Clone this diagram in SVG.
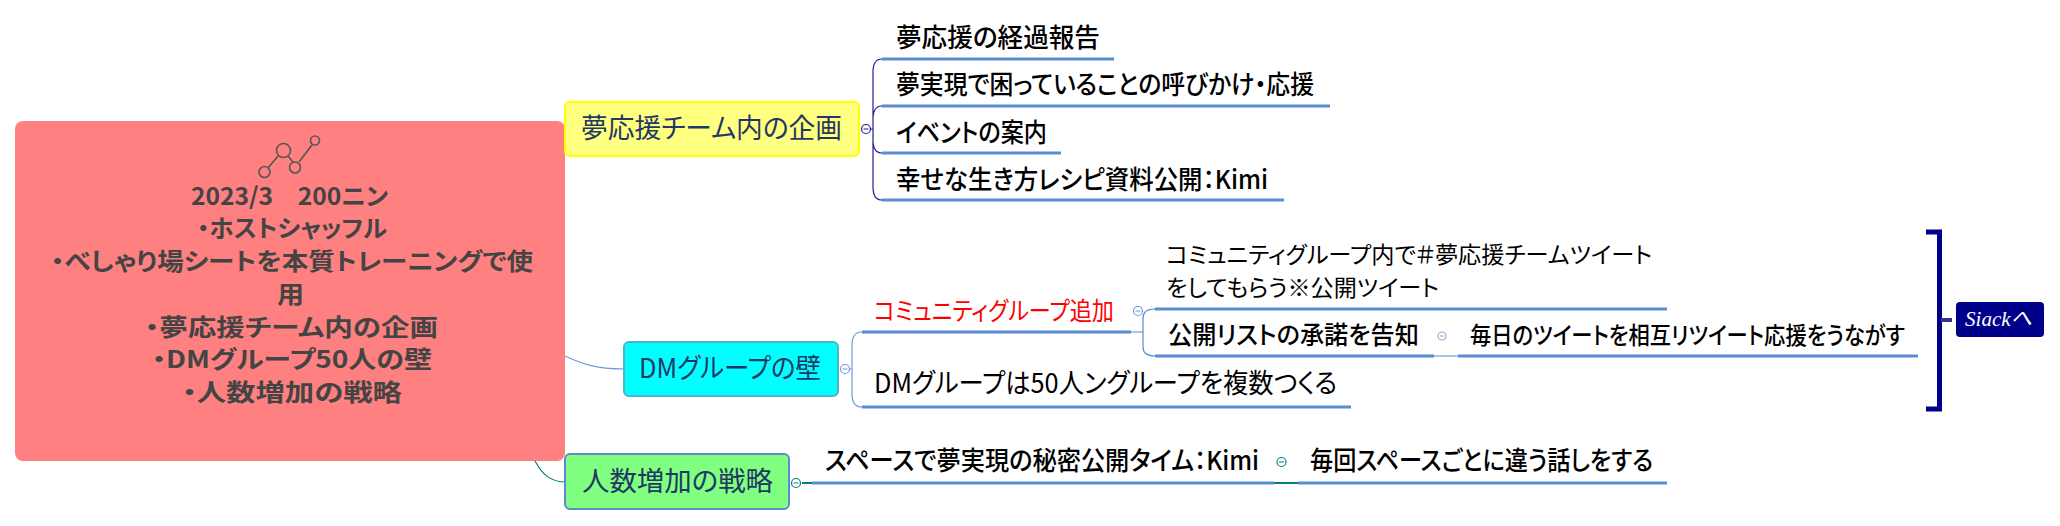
<svg xmlns="http://www.w3.org/2000/svg" width="2060" height="526" viewBox="0 0 2060 526">
<style>
text{font-family:"Noto Sans CJK JP","Liberation Sans",sans-serif;font-feature-settings:"palt"}
.c{font-size:24px;font-weight:700;fill:#444}
.m{font-size:27px;fill:#1f3864}
.l{font-size:26px;font-weight:500;fill:#000}
.u{stroke:#5b8bd0;stroke-width:3;fill:none}
.b{fill:none;stroke-width:1.2}
.t{fill:#fff;stroke-width:1.2}
.k{stroke:#555;stroke-width:1.6;fill:none}
</style>
<rect width="2060" height="526" fill="#fff"/>
<g id="connectors">
<path class="b" stroke="#6f9be0" d="M565 356C580 363 595 369 624 369"/>
<path class="b" stroke="#008080" d="M535 461C542 474 550 482 566 482"/>
<path class="b" stroke="#20208f" d="M882 59C876 59 873 64 873 72V187C873 195 876 200 882 200M882 106C876 106 873 111 873 119V140C873 148 876 153 882 153M866 129H873"/>
<path class="b" stroke="#6f9be0" d="M862 332C855 332 852 337 852 345V394C852 402 855 407 862 407M845 369H852"/>
<path class="b" stroke="#5b8bd0" d="M1131 332H1143M1155 309C1147 309 1143 312 1143 318V347C1143 353 1147 356 1155 356M1434 356H1458"/>
<path fill="none" stroke="#008080" stroke-width="2" d="M802 483H812M1274 483H1298"/>
<path class="u" d="M882 59H1114M882 106H1330M882 153H1061M882 200H1284M862 332H1131M862 407H1351M1155 309H1667M1155 356H1434M1458 356H1918M812 483H1274M1298 483H1667"/>
<path fill="none" stroke="#00008b" stroke-width="5" d="M1926 232H1939.500V409H1926"/>
<path fill="none" stroke="#3030a0" stroke-width="4" d="M1941 320H1952"/>
</g>
<g id="root">
<rect x="15" y="121" width="550" height="340" rx="8" fill="#ff8080"/>
<path class="k" d="M268 168L278 156M288 156L293 162M299 162L312 145"/>
<circle class="k" cx="264.500" cy="172" r="5.500"/><circle class="k" cx="283.500" cy="150.500" r="7"/><circle class="k" cx="295" cy="167.500" r="5.500"/><circle class="k" cx="315" cy="140.500" r="4.500"/>
<text class="c" x="191" y="205" textLength="197" lengthAdjust="spacingAndGlyphs">2023/3　200ニン</text>
<text class="c" x="197" y="237" textLength="190" lengthAdjust="spacingAndGlyphs">・ホストシャッフル</text>
<text class="c" x="51" y="270" textLength="482" lengthAdjust="spacingAndGlyphs">・べしゃり場シートを本質トレーニングで使</text>
<text class="c" x="277" y="303" textLength="27" lengthAdjust="spacingAndGlyphs">用</text>
<text class="c" x="145" y="336" textLength="293" lengthAdjust="spacingAndGlyphs">・夢応援チーム内の企画</text>
<text class="c" x="152" y="368" textLength="280" lengthAdjust="spacingAndGlyphs">・DMグループ50人の壁</text>
<text class="c" x="182" y="401" textLength="220" lengthAdjust="spacingAndGlyphs">・人数増加の戦略</text>
</g>
<g id="n-kikaku">
<rect x="565" y="102" width="294" height="54" rx="5" fill="#ffff80" stroke="#ffff00" stroke-width="2"/>
<text class="m" x="581" y="138" textLength="261" lengthAdjust="spacingAndGlyphs">夢応援チーム内の企画</text>
<circle class="t" cx="866" cy="129" r="4.500" stroke="#20208f"/>
<path stroke="#20208f" d="M863.500 129H868.500"/>
</g>
<g id="n-kabe">
<rect x="624" y="342" width="214" height="54" rx="5" fill="#00ffff" stroke="#4db6c6" stroke-width="2"/>
<text class="m" x="639" y="378" textLength="182" lengthAdjust="spacingAndGlyphs">DMグループの壁</text>
<circle class="t" cx="845" cy="369" r="4.500" stroke="#6f9be0"/>
<path stroke="#6f9be0" d="M842.500 369H847.500"/>
</g>
<g id="n-senryaku">
<rect x="565" y="454" width="224" height="55" rx="5" fill="#80ff80" stroke="#5b8bd0" stroke-width="2"/>
<text class="m" x="582" y="491" textLength="191" lengthAdjust="spacingAndGlyphs">人数増加の戦略</text>
<circle class="t" cx="796" cy="483" r="4.500" stroke="#008080"/>
<path stroke="#008080" d="M793.500 483H798.500"/>
</g>
<g id="n-1"><text class="l" x="896" y="47" textLength="204" lengthAdjust="spacingAndGlyphs">夢応援の経過報告</text></g>
<g id="n-2"><text class="l" x="896" y="94" textLength="418" lengthAdjust="spacingAndGlyphs">夢実現で困っていることの呼びかけ・応援</text></g>
<g id="n-3"><text class="l" x="896" y="142" textLength="151" lengthAdjust="spacingAndGlyphs">イベントの案内</text></g>
<g id="n-4"><text class="l" x="896" y="189" textLength="372" lengthAdjust="spacingAndGlyphs">幸せな生き方レシピ資料公開：Kimi</text></g>
<g id="n-comm">
<text x="874" y="320" font-size="25" fill="#ff0000" textLength="240" lengthAdjust="spacingAndGlyphs">コミュニティグループ追加</text>
<circle class="t" cx="1138" cy="311" r="4.500" stroke="#6f9be0"/>
<path stroke="#6f9be0" d="M1135.500 311H1140.500"/>
</g>
<g id="n-dm"><text x="874" y="393" font-size="27" fill="#000" textLength="463" lengthAdjust="spacingAndGlyphs">DMグループは50人ングループを複数つくる</text></g>
<g id="n-tweet">
<text x="1166" y="263" font-size="23" fill="#000" textLength="486" lengthAdjust="spacingAndGlyphs">コミュニティグループ内で＃夢応援チームツイート</text>
<text x="1166" y="296" font-size="23" fill="#000" textLength="273" lengthAdjust="spacingAndGlyphs">をしてもらう※公開ツイート</text>
</g>
<g id="n-list">
<text class="l" x="1168" y="344" style="font-size:25px" textLength="251" lengthAdjust="spacingAndGlyphs">公開リストの承諾を告知</text>
<circle class="t" cx="1442" cy="336" r="4" stroke="#8fb0d8"/>
<path stroke="#8fb0d8" d="M1440 336H1444"/>
</g>
<g id="n-rt"><text class="l" x="1470" y="344" style="font-size:24px" textLength="435" lengthAdjust="spacingAndGlyphs">毎日のツイートを相互リツイート応援をうながす</text></g>
<g id="n-space">
<text class="l" x="825" y="470" textLength="434" lengthAdjust="spacingAndGlyphs">スペースで夢実現の秘密公開タイム：Kimi</text>
<circle class="t" cx="1281.500" cy="462" r="4.500" stroke="#008080"/>
<path stroke="#008080" d="M1279 462H1284"/>
</g>
<g id="n-talk"><text class="l" x="1310" y="470" textLength="343" lengthAdjust="spacingAndGlyphs">毎回スペースごとに違う話しをする</text></g>
<g id="n-slack">
<rect x="1956" y="302" width="88" height="35" rx="4" fill="#00008b"/>
<text x="1965" y="326" font-size="22" fill="#fff" font-style="italic" style="font-family:'Liberation Serif','Noto Sans CJK JP',serif" textLength="67" lengthAdjust="spacingAndGlyphs">Siackへ</text>
</g>
</svg>
